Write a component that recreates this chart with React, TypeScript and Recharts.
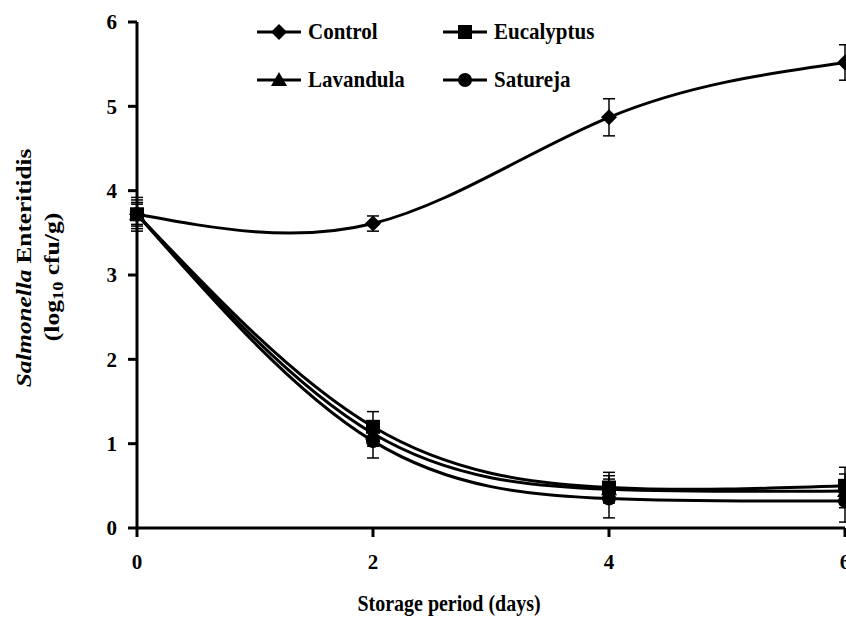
import React from "react";
import { LineChart, Line, XAxis, YAxis, ErrorBar } from "recharts";

const days = [0, 2, 4, 6];
const control = [3.72, 3.61, 4.87, 5.52];
const controlErr = [0.2, 0.09, 0.22, 0.21];
const eucalyptus = [3.72, 1.2, 0.48, 0.5];
const eucalyptusErr = [0.17, 0.18, 0.18, 0.22];
const lavandula = [3.72, 1.12, 0.46, 0.44];
const lavandulaErr = [0.14, 0.15, 0.16, 0.2];
const satureja = [3.72, 1.03, 0.35, 0.32];
const saturejaErr = [0.12, 0.2, 0.23, 0.25];
const yTicks = [0, 1, 2, 3, 4, 5, 6];
const xTicks = [0, 2, 4, 6];

const data = days.map((d, i) => ({
  day: d,
  control: control[i],
  controlErr: controlErr[i],
  eucalyptus: eucalyptus[i],
  eucalyptusErr: eucalyptusErr[i],
  lavandula: lavandula[i],
  lavandulaErr: lavandulaErr[i],
  satureja: satureja[i],
  saturejaErr: saturejaErr[i],
}));

const FONT = "'Liberation Serif', 'Times New Roman', serif";

// marker shapes
function marker(kind: string, cx: number, cy: number, key?: any) {
  if (kind === "diamond")
    return <polygon key={key} points={`${cx},${cy - 8} ${cx + 8},${cy} ${cx},${cy + 8} ${cx - 8},${cy}`} fill="#000" />;
  if (kind === "square")
    return <rect key={key} x={cx - 7} y={cy - 7} width={14} height={14} fill="#000" />;
  if (kind === "triangle")
    return <polygon key={key} points={`${cx},${cy - 8} ${cx + 8},${cy + 6} ${cx - 8},${cy + 6}`} fill="#000" />;
  return <circle key={key} cx={cx} cy={cy} r={7} fill="#000" />;
}

const dotFor = (kind: string) => (p: any) => marker(kind, p.cx, p.cy, p.key ?? `${kind}-${p.index}`);

const legendItems = [
  { name: "Control", kind: "diamond", x: 257, y: 32 },
  { name: "Eucalyptus", kind: "square", x: 443, y: 32 },
  { name: "Lavandula", kind: "triangle", x: 257, y: 80 },
  { name: "Satureja", kind: "circle", x: 443, y: 80 },
];

// legend + x title drawn together
const XTitleAndLegend = () => (
  <g fontFamily={FONT} fontWeight="bold" fill="#000">
    <text transform="translate(449,611) scale(1,1.2)" textAnchor="middle" fontSize={20}>
      Storage period (days)
    </text>
    {legendItems.map((it) => (
      <g key={it.name}>
        <line x1={it.x} y1={it.y} x2={it.x + 44} y2={it.y} stroke="#000" strokeWidth={3} />
        {marker(it.kind, it.x + 22, it.y)}
        <text transform={`translate(${it.x + 51},${it.y + 7}) scale(1,1.1)`} fontSize={21}>
          {it.name}
        </text>
      </g>
    ))}
  </g>
);

const YTitle = () => (
  <g fontFamily={FONT} fontWeight="bold" fill="#000">
    <text transform="translate(24,268) rotate(-90) scale(1.2,1)" textAnchor="middle" dy="0.35em" fontSize={21}>
      <tspan fontStyle="italic">Salmonella</tspan>
      <tspan>{"  Enteritidis"}</tspan>
    </text>
    <text transform="translate(52,277) rotate(-90) scale(1.22,1)" textAnchor="middle" dy="0.35em" fontSize={21}>
      <tspan>(log</tspan>
      <tspan fontSize={15} dy={4}>10</tspan>
      <tspan dy={-4}> cfu/g)</tspan>
    </text>
  </g>
);

const tickStyle = { fontFamily: FONT, fontWeight: "bold", fontSize: 21, fill: "#000" };

export default function App() {
  return (
    <div style={{ position: "fixed", left: 0, top: 0, width: 846, height: 618, overflow: "hidden", background: "#fff" }}>
      <LineChart width={880} height={618} data={data} margin={{ top: 22, right: 35, left: 77, bottom: 50 }}>
        <XAxis
          dataKey="day"
          type="number"
          domain={[0, 6]}
          ticks={xTicks}
          axisLine={{ stroke: "#000", strokeWidth: 3 }}
          tickLine={{ stroke: "#000", strokeWidth: 3 }}
          tickSize={9}
          tickMargin={17}
          tick={tickStyle}
          height={40}
          label={{ content: () => <XTitleAndLegend /> }}
        />
        <YAxis
          type="number"
          domain={[0, 6]}
          ticks={yTicks}
          width={60}
          axisLine={{ stroke: "#000", strokeWidth: 3 }}
          tickLine={{ stroke: "#000", strokeWidth: 3 }}
          tickSize={9}
          tickMargin={11}
          tick={tickStyle}
          label={{ content: () => <YTitle /> }}
        />
        <Line type="natural" dataKey="control" stroke="#000" strokeWidth={3} dot={dotFor("diamond")} isAnimationActive={false}>
          <ErrorBar dataKey="controlErr" direction="y" width={6} stroke="#000" strokeWidth={1.5} isAnimationActive={false} />
        </Line>
        <Line type="natural" dataKey="eucalyptus" stroke="#000" strokeWidth={3} dot={dotFor("square")} isAnimationActive={false}>
          <ErrorBar dataKey="eucalyptusErr" direction="y" width={6} stroke="#000" strokeWidth={1.5} isAnimationActive={false} />
        </Line>
        <Line type="natural" dataKey="lavandula" stroke="#000" strokeWidth={3} dot={dotFor("triangle")} isAnimationActive={false}>
          <ErrorBar dataKey="lavandulaErr" direction="y" width={6} stroke="#000" strokeWidth={1.5} isAnimationActive={false} />
        </Line>
        <Line type="natural" dataKey="satureja" stroke="#000" strokeWidth={3} dot={dotFor("circle")} isAnimationActive={false}>
          <ErrorBar dataKey="saturejaErr" direction="y" width={6} stroke="#000" strokeWidth={1.5} isAnimationActive={false} />
        </Line>
      </LineChart>
    </div>
  );
}
